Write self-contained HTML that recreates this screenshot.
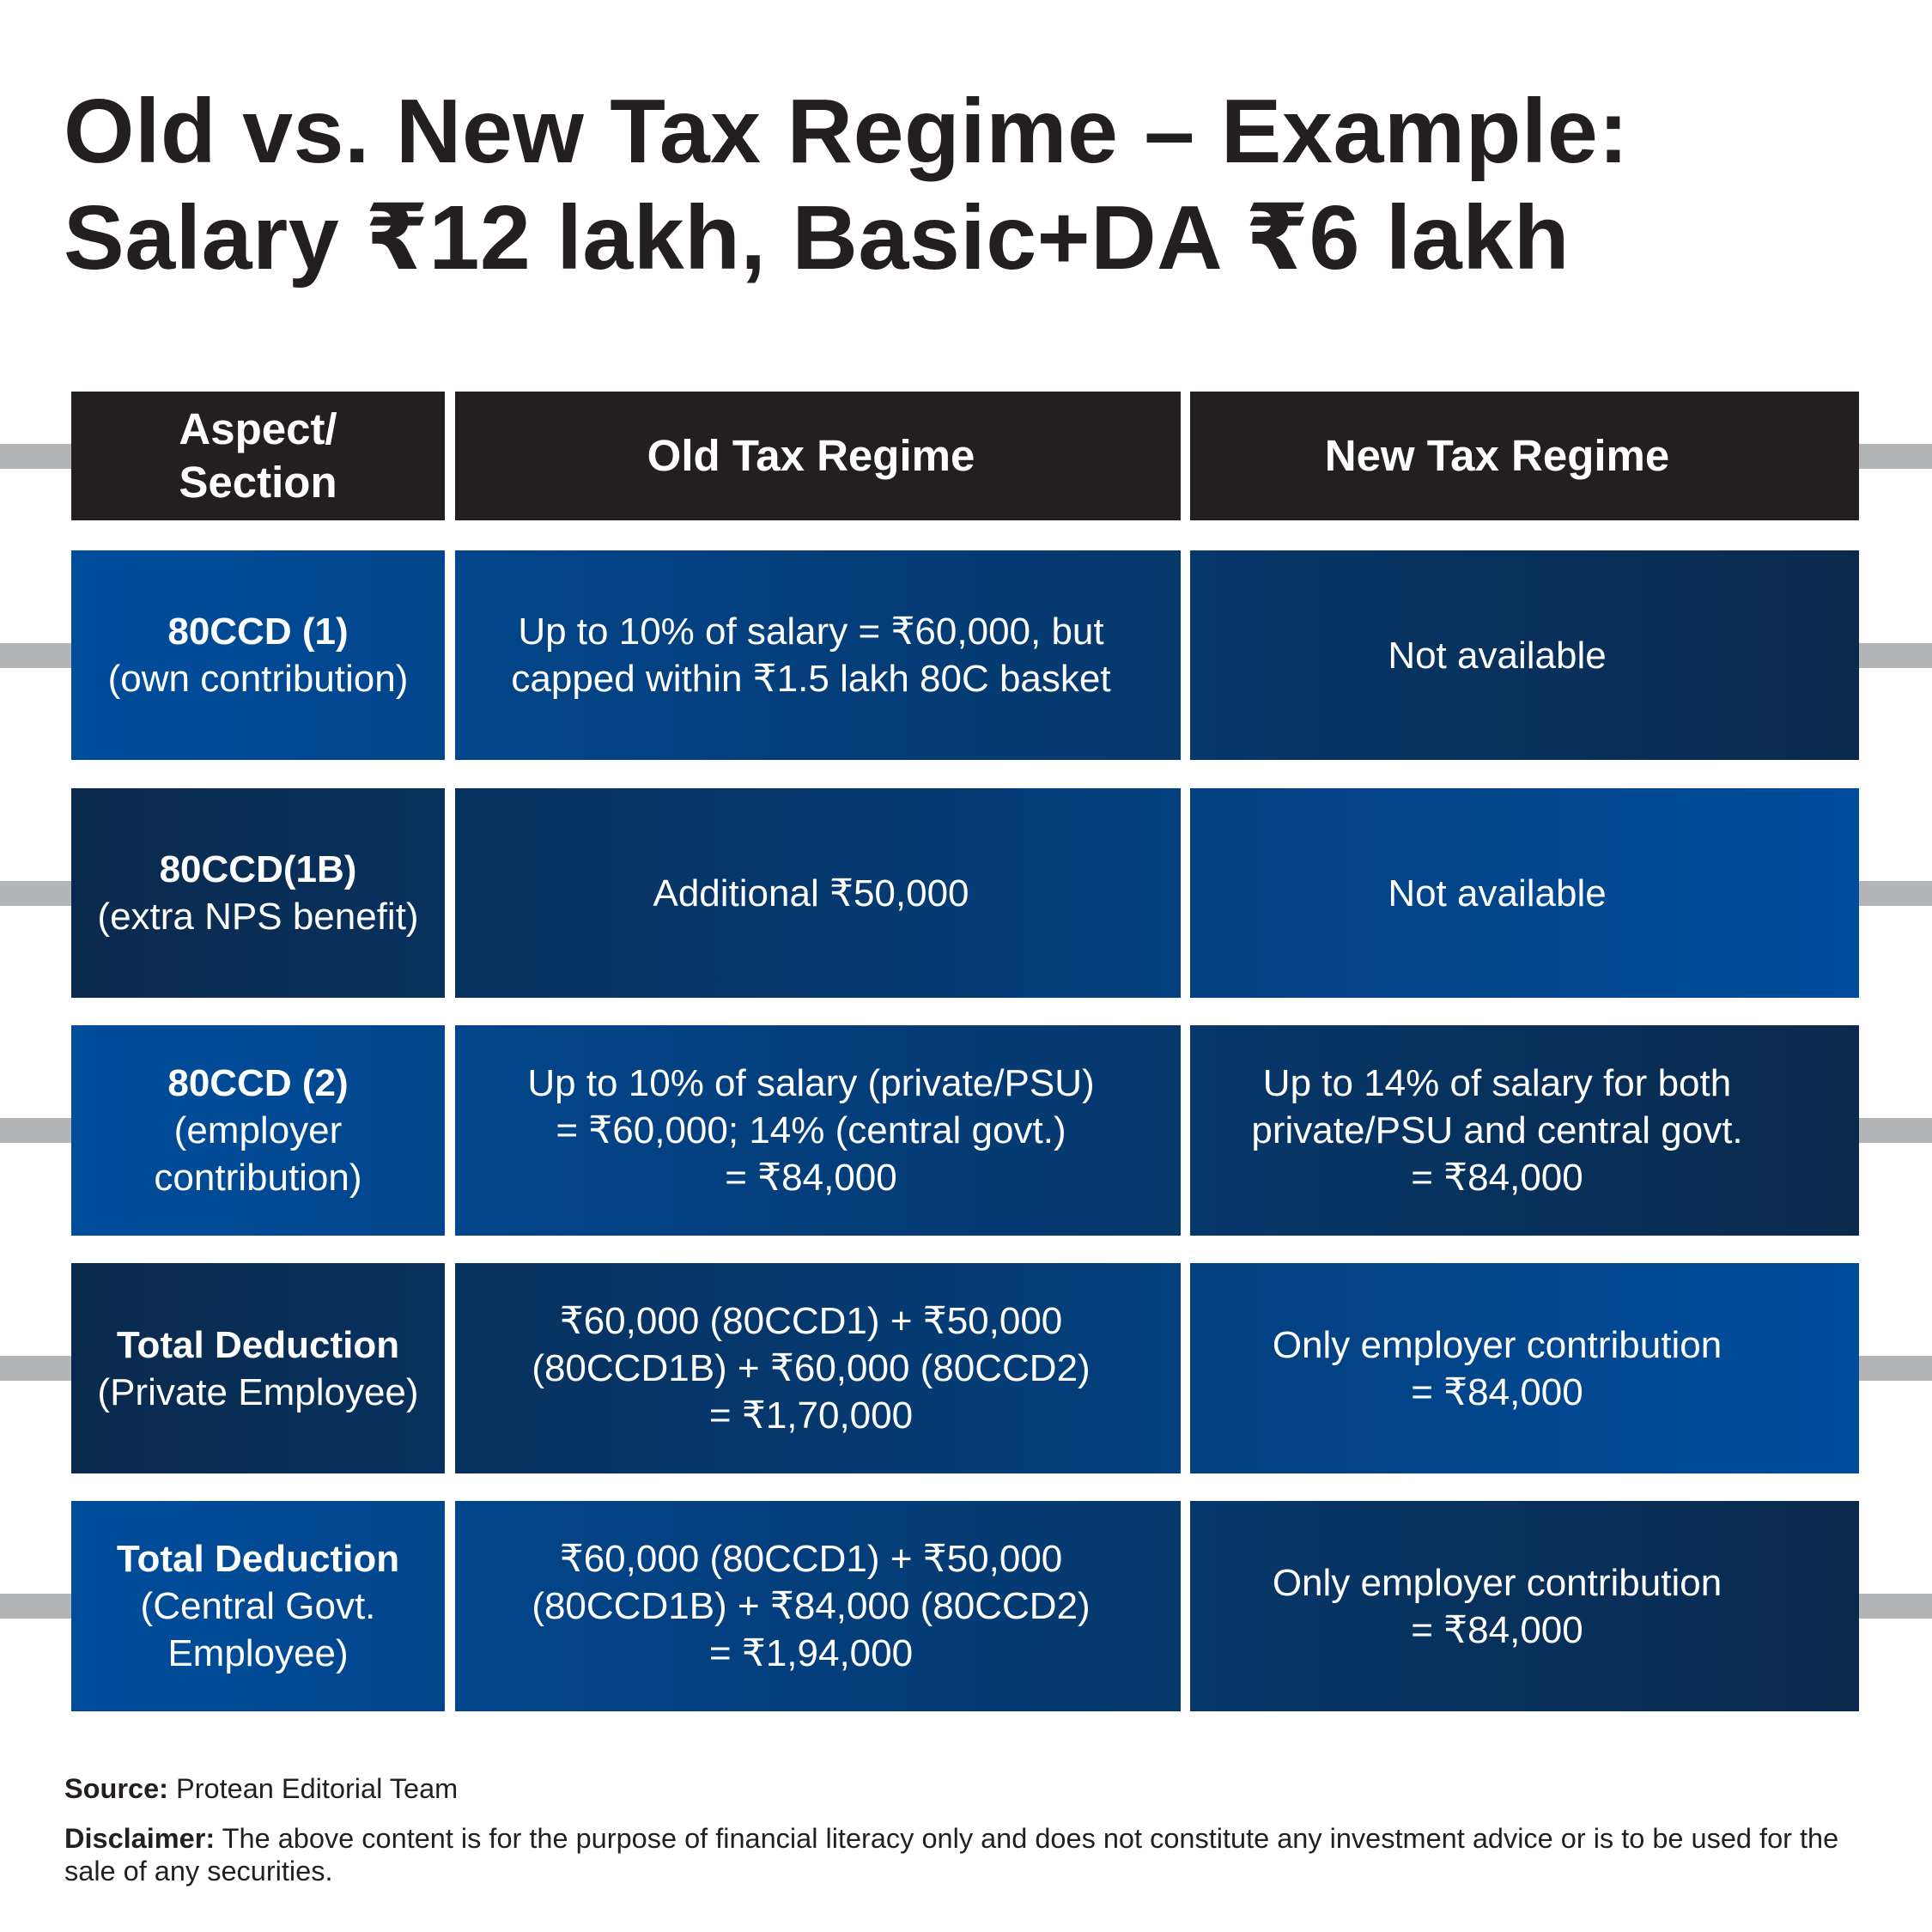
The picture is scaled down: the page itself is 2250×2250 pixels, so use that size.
<!DOCTYPE html>
<html><head><meta charset="utf-8"><style>
body{margin:0;width:2250px;height:2250px;background:#fff;position:relative;overflow:hidden;font-family:"Liberation Sans","DejaVu Sans",sans-serif;}
.t{position:absolute;left:74px;font-weight:bold;color:#231f20;font-size:106px;letter-spacing:0.5px;white-space:nowrap;}
.c{position:absolute;display:flex;align-items:center;justify-content:center;text-align:center;color:#fff;font-size:44px;line-height:55px;background-size:2082px 100%;box-sizing:border-box;}
.h{background:#231f20;font-weight:bold;font-size:51px;line-height:62px;}
.a{background-image:linear-gradient(90deg,#004d9c,#0a2a4d);}
.b{background-image:linear-gradient(90deg,#0a2a4d,#004d9c);}
.k1{left:83px;width:435px;background-position:0 0;}
.k2{left:530px;width:845px;background-position:-447px 0;padding-right:16px;}
.k3{left:1386px;width:779px;background-position:-1303px 0;padding-right:64px;}
.g{position:absolute;height:29px;background:#b3b4b6;}
.f{position:absolute;left:75px;font-size:32.5px;color:#231f20;line-height:38px;width:2120px;}
</style></head><body>
<div class="t" style="top:93px">Old vs. New Tax Regime – Example:</div>
<div class="t" style="top:215px">Salary ₹12 lakh, Basic+DA ₹6 lakh</div>

<div class="g" style="left:0;width:83px;top:517px"></div><div class="g" style="left:2165px;width:85px;top:517px"></div>
<div class="g" style="left:0;width:83px;top:749px"></div><div class="g" style="left:2165px;width:85px;top:749px"></div>
<div class="g" style="left:0;width:83px;top:1026px"></div><div class="g" style="left:2165px;width:85px;top:1026px"></div>
<div class="g" style="left:0;width:83px;top:1302px"></div><div class="g" style="left:2165px;width:85px;top:1302px"></div>
<div class="g" style="left:0;width:83px;top:1579px"></div><div class="g" style="left:2165px;width:85px;top:1579px"></div>
<div class="g" style="left:0;width:83px;top:1856px"></div><div class="g" style="left:2165px;width:85px;top:1856px"></div>

<div class="c h k1" style="top:456px;height:150px">Aspect/<br>Section</div>
<div class="c h k2" style="top:456px;height:150px">Old Tax Regime</div>
<div class="c h k3" style="top:456px;height:150px">New Tax Regime</div>

<div class="c a k1" style="top:641px;height:244px"><div><b>80CCD (1)</b><br>(own contribution)</div></div>
<div class="c a k2" style="top:641px;height:244px"><div>Up to 10% of salary = ₹60,000, but<br>capped within ₹1.5 lakh 80C basket</div></div>
<div class="c a k3" style="top:641px;height:244px">Not available</div>

<div class="c b k1" style="top:918px;height:244px"><div><b>80CCD(1B)</b><br>(extra NPS benefit)</div></div>
<div class="c b k2" style="top:918px;height:244px">Additional ₹50,000</div>
<div class="c b k3" style="top:918px;height:244px">Not available</div>

<div class="c a k1" style="top:1194px;height:245px"><div><b>80CCD (2)</b><br>(employer<br>contribution)</div></div>
<div class="c a k2" style="top:1194px;height:245px"><div>Up to 10% of salary (private/PSU)<br>= ₹60,000; 14% (central govt.)<br>= ₹84,000</div></div>
<div class="c a k3" style="top:1194px;height:245px"><div>Up to 14% of salary for both<br>private/PSU and central govt.<br>= ₹84,000</div></div>

<div class="c b k1" style="top:1471px;height:245px"><div><b>Total Deduction</b><br>(Private Employee)</div></div>
<div class="c b k2" style="top:1471px;height:245px"><div>₹60,000 (80CCD1) + ₹50,000<br>(80CCD1B) + ₹60,000 (80CCD2)<br>= ₹1,70,000</div></div>
<div class="c b k3" style="top:1471px;height:245px"><div>Only employer contribution<br>= ₹84,000</div></div>

<div class="c a k1" style="top:1748px;height:245px"><div><b>Total Deduction</b><br>(Central Govt.<br>Employee)</div></div>
<div class="c a k2" style="top:1748px;height:245px"><div>₹60,000 (80CCD1) + ₹50,000<br>(80CCD1B) + ₹84,000 (80CCD2)<br>= ₹1,94,000</div></div>
<div class="c a k3" style="top:1748px;height:245px"><div>Only employer contribution<br>= ₹84,000</div></div>

<div class="f" style="top:2064px"><b>Source:</b> Protean Editorial Team</div>
<div class="f" style="top:2122px"><b>Disclaimer:</b> The above content is for the purpose of financial literacy only and does not constitute any investment advice or is to be used for the<br>sale of any securities.</div>
</body></html>
